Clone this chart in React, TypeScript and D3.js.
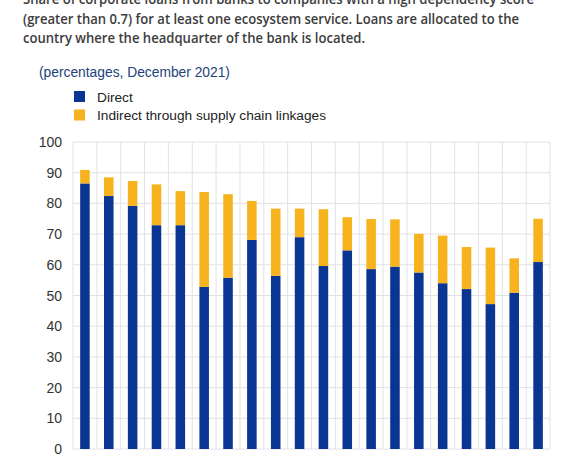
import React from "react";
import * as d3 from "d3";

// Share of corporate loans with high dependency, by bank country (December 2021)
const categories = [
  "C1", "C2", "C3", "C4", "C5", "C6", "C7", "C8", "C9", "C10",
  "C11", "C12", "C13", "C14", "C15", "C16", "C17", "C18", "C19", "C20",
];
const directValues = [
  86.5, 82.4, 79.2, 72.9, 72.9, 52.8, 55.8, 68.1, 56.4, 69.0,
  59.6, 64.7, 58.6, 59.4, 57.5, 54.0, 52.1, 47.2, 50.9, 60.9,
];
const totalValues = [
  90.9, 88.5, 87.3, 86.2, 84.0, 83.7, 83.0, 80.8, 78.3, 78.3,
  78.1, 75.5, 74.9, 74.8, 70.1, 69.5, 65.8, 65.6, 62.1, 75.0,
];
const yTicks = [0, 10, 20, 30, 40, 50, 60, 70, 80, 90, 100];
const titleLines = [
  "Share of corporate loans from banks to companies with a high dependency score",
  "(greater than 0.7) for at least one ecosystem service. Loans are allocated to the",
  "country where the headquarter of the bank is located.",
];
const titleWidths = [511, 496, 342];
const subtitle = "(percentages, December 2021)";
const legendItems = [
  { key: "direct", label: "Direct" },
  { key: "indirect", label: "Indirect through supply chain linkages" },
];

const W = 580;
const H = 460;
const plot = { left: 73, right: 550, top: 142, bottom: 449 };
const BLUE = "#0b3592";
const YELLOW = "#f6b31d";
const GRID = "#e2e2e6";

export default function App() {
  const x = d3
    .scaleBand<string>()
    .domain(categories)
    .range([plot.left, plot.right])
    .paddingInner(0.6)
    .paddingOuter(0.3);
  const y = d3.scaleLinear().domain([0, 100]).range([plot.bottom, plot.top]);

  const bandStep = x.step();
  const boundaries = d3
    .range(categories.length + 1)
    .map((i) => plot.left + i * ((plot.right - plot.left) / categories.length));

  const rows = categories.map((c, i) => ({
    c,
    direct: directValues[i],
    indirect: totalValues[i] - directValues[i],
  }));
  const stacked = d3.stack<any>().keys(["direct", "indirect"])(rows);

  return (
    <svg
      width={W}
      height={H}
      style={{ position: "absolute", left: 0, top: 0, background: "#fff" }}
    >
      {/* Title */}
      {titleLines.map((t, i) => (
        <text
          key={i}
          x={23}
          y={4 + i * 19.5}
          fontFamily="'Open Sans', sans-serif"
          fontWeight={600}
          fontSize={13.6}
          textLength={titleWidths[i]}
          lengthAdjust="spacingAndGlyphs"
          fill="#3c3c3c"
        >
          {t}
        </text>
      ))}
      <text
        x={39}
        y={77}
        fontFamily="'Liberation Sans', Arial, sans-serif"
        fontSize={13.8}
        fill="#23427a"
      >
        {subtitle}
      </text>

      {/* Legend */}
      {legendItems.map((item, i) => (
        <g key={item.key} transform={`translate(74, ${91 + i * 18.5})`}>
          <rect width={11} height={11} fill={item.key === "direct" ? BLUE : YELLOW} />
          <text
            x={23}
            y={10.5}
            fontFamily="'Liberation Sans', Arial, sans-serif"
            fontSize={13.7}
            fill="#222"
          >
            {item.label}
          </text>
        </g>
      ))}

      {/* Grid */}
      {yTicks.map((t) => (
        <line
          key={`h${t}`}
          x1={plot.left}
          x2={plot.right}
          y1={y(t)}
          y2={y(t)}
          stroke={GRID}
          strokeWidth={1}
        />
      ))}
      {boundaries.map((bx, i) => (
        <line
          key={`v${i}`}
          x1={bx}
          x2={bx}
          y1={plot.top}
          y2={plot.bottom}
          stroke={GRID}
          strokeWidth={1}
        />
      ))}

      {/* Y axis labels */}
      {yTicks.map((t) => (
        <text
          key={`yl${t}`}
          x={62}
          y={y(t) + 5}
          textAnchor="end"
          fontFamily="'Liberation Sans', Arial, sans-serif"
          fontSize={14}
          fill="#333"
        >
          {t}
        </text>
      ))}

      {/* Stacked bars */}
      {stacked.map((layer) => (
        <g key={layer.key} fill={layer.key === "direct" ? BLUE : YELLOW}>
          {layer.map((d, i) => {
            const cx = boundaries[i] + bandStep / 2;
            const bw = x.bandwidth();
            return (
              <rect
                key={i}
                x={cx - bw / 2}
                y={y(d[1])}
                width={bw}
                height={y(d[0]) - y(d[1])}
              />
            );
          })}
        </g>
      ))}
    </svg>
  );
}
